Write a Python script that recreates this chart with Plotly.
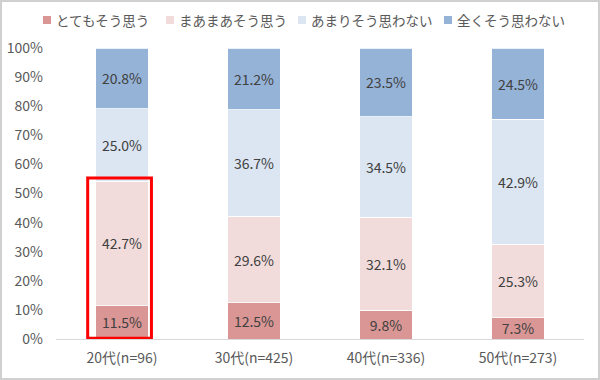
import plotly.graph_objects as go

categories = ["20代(n=96)", "30代(n=425)", "40代(n=336)", "50代(n=273)"]
series_names = ["とてもそう思う", "まあまあそう思う", "あまりそう思わない", "全くそう思わない"]
v_totemo = [11.5, 12.5, 9.8, 7.3]
v_maamaa = [42.7, 29.6, 32.1, 25.3]
v_amari = [25.0, 36.7, 34.5, 42.9]
v_mattaku = [20.8, 21.2, 23.5, 24.5]
colors = ["#D99694", "#F2DCDB", "#DCE6F2", "#95B3D7"]
tick_vals = [0, 10, 20, 30, 40, 50, 60, 70, 80, 90, 100]
tick_text = ["0%", "10%", "20%", "30%", "40%", "50%", "60%", "70%", "80%", "90%", "100%"]

font_family = "Noto Sans CJK JP"
L, R, T, B = 56, 16, 48, 41
PW, PH = 600 - L - R, 380 - T - B

def px2paper(px, py):
    return (px - L) / PW, (380 - B - py) / PH

fig = go.Figure()
for name, vals, col in zip(series_names, [v_totemo, v_maamaa, v_amari, v_mattaku], colors):
    fig.add_trace(go.Bar(
        name=name, x=categories, y=vals,
        marker=dict(color=col, line=dict(color="white", width=0.8)),
        texttemplate="%{y:.1f}%", textposition="inside", insidetextanchor="middle",
        constraintext="none",
        textfont=dict(color="#404040", size=14, family=font_family),
        width=0.4, showlegend=False,
    ))

fig.update_layout(
    barmode="stack",
    width=600, height=380,
    margin=dict(l=L, r=R, t=T, b=B, autoexpand=False),
    paper_bgcolor="white", plot_bgcolor="white",
    font=dict(family=font_family, color="#595959", size=14),
    showlegend=False,
    xaxis=dict(showline=True, linecolor="#D9D9D9", linewidth=1, ticks="", automargin=False,
               ticklabelstandoff=6, tickfont=dict(size=14, color="#595959")),
    yaxis=dict(range=[0, 100], tickvals=tick_vals, ticktext=tick_text, showgrid=False,
               zeroline=False, showline=False, ticks="", ticklabelstandoff=12, automargin=False,
               tickfont=dict(size=14, color="#595959")),
)

# manual legend
legend_marker_x = [47, 170, 302, 448]
legend_y = 20
for name, col, mx in zip(series_names, colors, legend_marker_x):
    x0, y0 = px2paper(mx - 4, legend_y + 4)
    x1, y1 = px2paper(mx + 4, legend_y - 4)
    fig.add_shape(type="rect", xref="paper", yref="paper", x0=x0, x1=x1, y0=y0, y1=y1,
                  fillcolor=col, line=dict(width=0))
    tx, ty = px2paper(mx + 7, legend_y)
    fig.add_annotation(xref="paper", yref="paper", x=tx, y=ty, xanchor="left", yanchor="middle",
                       text=name, showarrow=False, font=dict(size=13.5, color="#595959"))

# red highlight rectangle around 20代 lower segments
fig.add_shape(type="rect", xref="x", yref="y", x0=-0.26, x1=0.223, y0=0.3, y1=55.3,
              line=dict(color="#FF0000", width=3), fillcolor="rgba(0,0,0,0)")
# outer frame
fx0, fy0 = px2paper(1, 379)
fx1, fy1 = px2paper(599, 1)
fig.add_shape(type="rect", xref="paper", yref="paper", x0=fx0, x1=fx1, y0=fy0, y1=fy1,
              line=dict(color="#D0D0D0", width=2))

fig.write_html("out.html", config={"displayModeBar": False},
               post_script="document.body.style.margin='0';")
